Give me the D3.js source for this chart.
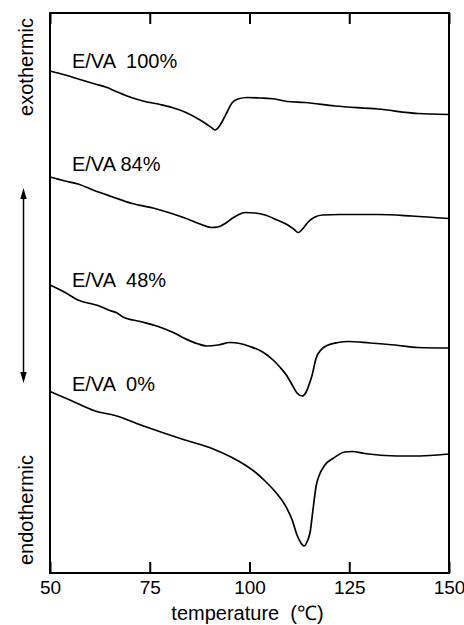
<!DOCTYPE html>
<html>
<head>
<meta charset="utf-8">
<script src="https://cdn.jsdelivr.net/npm/d3@7"></script>
<style>
  html, body { margin: 0; padding: 0; background: #fff; }
  svg text { font-family: "Liberation Sans", Arial, Helvetica, sans-serif; fill: #000; white-space: pre; }
</style>
</head>
<body>
<svg id="chart" width="464" height="625"></svg>
<script>
// DSC heating traces of E/VA blends: temperature (°C) vs heat flow (arbitrary units, stacked)
const tempTicks = [50, 75, 100, 125, 150];
const seriesNames = ["E/VA  100%", "E/VA 84%", "E/VA  48%", "E/VA  0%"];

const eva100 = [
  [50, 50.2], [53.8, 49.8], [57.5, 49.35], [61.3, 48.9], [64.3, 48.55], [66.3, 48.2],
  [69.3, 47.7], [73.3, 47.2], [77.6, 46.85], [80.6, 46.55], [83.8, 46.1], [86.3, 45.6],
  [88.8, 45.0], [90.6, 44.5], [91.4, 44.3], [92.1, 44.5], [93.1, 45.1], [94.4, 46.1],
  [95.6, 47.0], [97.1, 47.4], [99.4, 47.55], [102.6, 47.5], [106.4, 47.4], [109.4, 47.15],
  [113.9, 47.05], [121.4, 46.7], [132.2, 46.4], [142.2, 45.95], [150, 45.85]
];
const eva84 = [
  [50, 39.6], [53.8, 39.2], [57.0, 38.9], [60.8, 38.3], [65.0, 37.7], [70.6, 36.95],
  [76.3, 36.45], [80.1, 36.0], [83.8, 35.5], [87.6, 34.9], [90.4, 34.55], [92.1, 34.6],
  [93.9, 34.95], [95.6, 35.45], [97.1, 35.8], [98.9, 36.05], [101.4, 36.0], [103.9, 35.8],
  [106.9, 35.3], [109.6, 34.8], [111.2, 34.35], [112.2, 34.05], [113.4, 34.45], [114.7, 35.1],
  [116.4, 35.6], [118.4, 35.8], [122.7, 35.85], [132.2, 35.85], [140.7, 35.7], [150, 35.45]
];
const eva48 = [
  [50, 28.8], [53.8, 28.05], [57.0, 27.3], [62.0, 26.75], [65.0, 26.25], [66.8, 26.0],
  [68.3, 25.6], [72.6, 25.15], [77.1, 24.65], [80.6, 24.1], [83.8, 23.45], [86.8, 22.95],
  [89.3, 22.7], [92.1, 22.8], [95.1, 23.05], [97.6, 22.95], [100.1, 22.65], [103.1, 22.15],
  [105.9, 21.3], [107.6, 20.6], [109.4, 19.7], [110.7, 18.8], [111.9, 18.0], [113.2, 17.7],
  [114.2, 18.1], [114.9, 18.8], [115.7, 19.8], [116.7, 21.5], [117.9, 22.3], [119.7, 22.8],
  [122.2, 23.05], [124.7, 23.15], [130.2, 23.0], [136.5, 22.8], [142.2, 22.55], [150, 22.5]
];
const eva0 = [
  [50, 18.15], [55.0, 17.3], [61.3, 16.2], [66.3, 15.75], [73.8, 14.65], [83.8, 13.3],
  [90.6, 12.45], [95.6, 11.55], [98.9, 10.8], [101.4, 10.1], [103.9, 9.2], [106.4, 8.15],
  [108.9, 6.8], [110.7, 5.3], [111.9, 3.8], [112.9, 3.0], [113.7, 2.7], [114.4, 3.1],
  [115.2, 4.1], [115.9, 6.3], [116.7, 8.7], [117.4, 9.7], [118.9, 10.8], [120.9, 11.45],
  [123.9, 12.1], [125.7, 12.15], [128.9, 11.95], [133.9, 11.75], [140.2, 11.7],
  [145.2, 11.75], [150, 11.9]
];
const traces = [eva100, eva84, eva48, eva0];

// label anchor for each trace: [temperature, heat flow]
const labelPos = [[55.5, 50.5], [55.5, 40.2], [55.5, 28.6], [55.5, 18.2]];

const svg = d3.select("#chart");
const plot = { left: 50, right: 449, top: 13, bottom: 573 };

const x = d3.scaleLinear().domain([50, 150]).range([plot.left, plot.right]);
const y = d3.scaleLinear().domain([0, 56]).range([plot.bottom, plot.top]);

// traces
const line = d3.line()
  .x(d => x(d[0]))
  .y(d => y(d[1]))
  .curve(d3.curveMonotoneX);

svg.append("g")
  .selectAll("path")
  .data(traces)
  .join("path")
  .attr("d", line)
  .attr("fill", "none")
  .attr("stroke", "#000")
  .attr("stroke-width", 1.7)
  .attr("stroke-linejoin", "round");

// trace labels
svg.append("g")
  .selectAll("text")
  .data(seriesNames)
  .join("text")
  .attr("x", (d, i) => x(labelPos[i][0]))
  .attr("y", (d, i) => y(labelPos[i][1]))
  .attr("font-size", 20)
  .text(d => d);

// bottom axis with inward ticks
const bottomAxis = d3.axisBottom(x)
  .tickValues(tempTicks)
  .tickFormat(d3.format("d"))
  .tickSizeInner(-11)
  .tickSizeOuter(0)
  .tickPadding(8);

const gb = svg.append("g")
  .attr("transform", `translate(0,${plot.bottom})`)
  .call(bottomAxis);
gb.select(".domain").remove();
gb.selectAll(".tick line").attr("stroke", "#000").attr("stroke-width", 2);
gb.selectAll(".tick text")
  .attr("font-size", 19)
  .attr("font-family", "Liberation Sans, Arial, sans-serif")
  .attr("fill", "#000");

// top axis, ticks only
const topAxis = d3.axisTop(x)
  .tickValues(tempTicks)
  .tickFormat("")
  .tickSizeInner(-11)
  .tickSizeOuter(0);
const gt = svg.append("g")
  .attr("transform", `translate(0,${plot.top})`)
  .call(topAxis);
gt.select(".domain").remove();
gt.selectAll(".tick line").attr("stroke", "#000").attr("stroke-width", 2);

// frame
svg.append("rect")
  .attr("x", plot.left)
  .attr("y", plot.top)
  .attr("width", plot.right - plot.left)
  .attr("height", plot.bottom - plot.top)
  .attr("fill", "none")
  .attr("stroke", "#000")
  .attr("stroke-width", 2);

// x axis title
svg.append("text")
  .attr("x", (plot.left + plot.right) / 2 - 2)
  .attr("y", 620)
  .attr("text-anchor", "middle")
  .attr("font-size", 20)
  .text("temperature  (\u2103)");

// vertical side labels
svg.append("text")
  .attr("transform", "translate(33,67) rotate(-90)")
  .attr("text-anchor", "middle")
  .attr("font-size", 20)
  .text("exothermic");

svg.append("text")
  .attr("transform", "translate(33,510) rotate(-90)")
  .attr("text-anchor", "middle")
  .attr("font-size", 20)
  .text("endothermic");

// double-headed arrow between the side labels
const ax = 23.5, ay0 = 188, ay1 = 383;
svg.append("line")
  .attr("x1", ax).attr("x2", ax)
  .attr("y1", ay0 + 6).attr("y2", ay1 - 6)
  .attr("stroke", "#000")
  .attr("stroke-width", 1.5);
svg.append("path")
  .attr("d", `M${ax},${ay0} L${ax - 3.2},${ay0 + 11} L${ax + 3.2},${ay0 + 11} Z`)
  .attr("fill", "#000");
svg.append("path")
  .attr("d", `M${ax},${ay1} L${ax - 3.2},${ay1 - 11} L${ax + 3.2},${ay1 - 11} Z`)
  .attr("fill", "#000");
</script>
</body>
</html>
